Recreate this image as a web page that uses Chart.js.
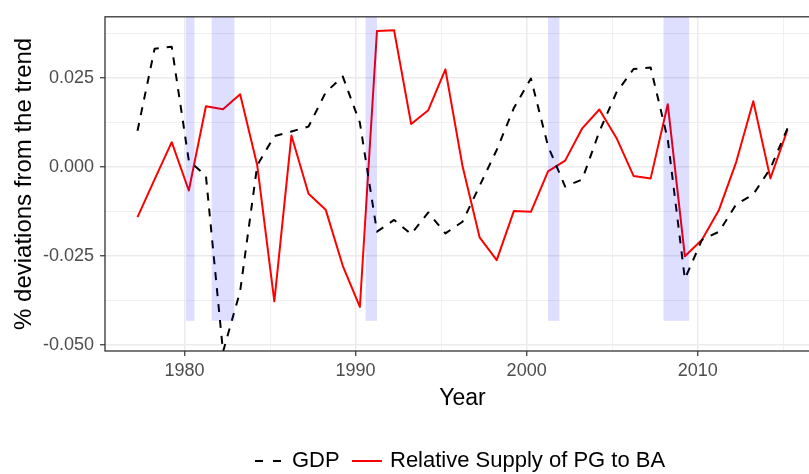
<!DOCTYPE html>
<html>
<head>
<meta charset="utf-8">
<script src="https://cdn.jsdelivr.net/npm/chart.js@4.4.1/dist/chart.umd.min.js"></script>
<style>
  html, body { margin: 0; padding: 0; background: #fff; overflow: hidden; }
  #wrap { width: 830px; height: 474px; }
</style>
</head>
<body>
<div id="wrap"><canvas id="chart"></canvas></div>
<script>
// observation years; each point is plotted at year + 0.25
const years = [1977, 1978, 1979, 1980, 1981, 1982, 1983, 1984, 1985, 1986,
               1987, 1988, 1989, 1990, 1991, 1992, 1993, 1994, 1995, 1996,
               1997, 1998, 1999, 2000, 2001, 2002, 2003, 2004, 2005, 2006,
               2007, 2008, 2009, 2010, 2011, 2012, 2013, 2014, 2015];

const gdp = [0.0102, 0.0333, 0.0339, 0.0018, -0.0025, -0.0520, -0.0350, 0.0005, 0.0087, 0.0100,
             0.0114, 0.0210, 0.0255, 0.0125, -0.0182, -0.0149, -0.0189, -0.0128, -0.0187, -0.0154,
             -0.0053, 0.0048, 0.0166, 0.0249, 0.0059, -0.0055, -0.0035, 0.0100, 0.0210, 0.0276,
             0.0280, 0.0078, -0.0315, -0.0205, -0.0182, -0.0105, -0.0077, -0.0004, 0.0109];

const relSupply = [-0.0141, -0.0035, 0.0070, -0.0066, 0.0171, 0.0163, 0.0205, 0.0005, -0.0378, 0.0089,
                   -0.0075, -0.0120, -0.0278, -0.0394, 0.0383, 0.0385, 0.0121, 0.0160, 0.0275, 0.0003,
                   -0.0198, -0.0262, -0.0124, -0.0126, -0.0012, 0.0018, 0.0109, 0.0162, 0.0082, -0.0025,
                   -0.0032, 0.0177, -0.0251, -0.0205, -0.0120, 0.0014, 0.0185, -0.0032, 0.0105];

const seriesNames = ['GDP', 'Relative Supply of PG to BA'];

// NBER recessions in decimal years
const recessionStart = [1980.083, 1981.583, 1990.583, 2001.25, 2008.0];
const recessionEnd = [1980.583, 1982.917, 1991.25, 2001.917, 2009.5];
const recessionFloor = -0.0433;

const xMajor = [1980, 1990, 2000, 2010];
const xMinor = [1985, 1995, 2005, 2015];
const yMajor = [-0.05, -0.025, 0, 0.025];
const yMinor = [-0.0375, -0.0125, 0.0125, 0.0375];

const near = (a, list) => list.some(v => Math.abs(v - a) < 1e-9);

Chart.defaults.font.family = '"Liberation Sans", Arial, Helvetica, sans-serif';

const points = vals => vals.map((v, i) => ({ x: years[i] + 0.25, y: v }));

const gridOpts = major => ({
    color: '#EBEBEB',
    lineWidth: c => near(c.tick.value, major) ? 1.5 : 0.75,
    tickColor: c => near(c.tick.value, major) ? '#333333' : 'rgba(0,0,0,0)',
    tickWidth: 1.2,
    tickLength: 5
});

const recessionShade = {
    id: 'recessionShade',
    afterDatasetsDraw(chart) {
        const { ctx, chartArea: a, scales: { x, y } } = chart;
        ctx.save();
        ctx.beginPath();
        ctx.rect(a.left, a.top, a.width, a.height);
        ctx.clip();
        ctx.fillStyle = 'rgba(0, 0, 255, 0.13)';
        const yb = y.getPixelForValue(recessionFloor);
        recessionStart.forEach((s, i) => {
            const x0 = x.getPixelForValue(s);
            const x1 = x.getPixelForValue(recessionEnd[i]);
            ctx.fillRect(x0, a.top, x1 - x0, yb - a.top);
        });
        ctx.restore();
    }
};

const panelAndLegend = {
    id: 'panelAndLegend',
    afterDraw(chart) {
        const { ctx, chartArea: a } = chart;
        ctx.save();
        ctx.strokeStyle = '#333333';
        ctx.lineWidth = 1.3;
        ctx.strokeRect(a.left, a.top, a.right - a.left, a.bottom - a.top);

        // legend along the bottom
        const ly = 461;
        const ds = chart.data.datasets;
        ctx.lineWidth = 2;
        ctx.strokeStyle = ds[0].borderColor;
        ctx.setLineDash([8, 10]);
        ctx.beginPath(); ctx.moveTo(255, ly); ctx.lineTo(282, ly); ctx.stroke();
        ctx.setLineDash([]);
        ctx.strokeStyle = ds[1].borderColor;
        ctx.beginPath(); ctx.moveTo(352, ly); ctx.lineTo(382, ly); ctx.stroke();
        ctx.fillStyle = '#000';
        ctx.font = '22px "Liberation Sans", Arial, sans-serif';
        ctx.textBaseline = 'middle';
        ctx.fillText(ds[0].label, 292, ly);
        ctx.fillText(ds[1].label, 390, ly);
        ctx.restore();
    }
};

new Chart(document.getElementById('chart'), {
    type: 'line',
    data: {
        datasets: [{
            label: seriesNames[0],
            data: points(gdp),
            borderColor: '#000000',
            borderWidth: 2,
            borderDash: [8, 8],
            borderJoinStyle: 'round',
            pointRadius: 0,
            tension: 0
        }, {
            label: seriesNames[1],
            data: points(relSupply),
            borderColor: '#FF0000',
            borderWidth: 2,
            borderJoinStyle: 'round',
            pointRadius: 0,
            tension: 0
        }]
    },
    options: {
        responsive: true,
        maintainAspectRatio: false,
        animation: false,
        events: [],
        layout: { padding: { top: 7, right: 10, bottom: 60, left: 0 } },
        scales: {
            x: {
                type: 'linear',
                min: 1975.35,
                max: 2017.15,
                afterBuildTicks: s => { s.ticks = [...xMajor, ...xMinor].sort((a, b) => a - b).map(v => ({ value: v })); },
                afterFit: s => { s.height = 63; },
                ticks: {
                    autoSkip: false,
                    maxRotation: 0,
                    padding: 4,
                    color: '#4D4D4D',
                    font: { size: 18 },
                    callback: v => near(v, xMajor) ? String(v) : ''
                },
                grid: gridOpts(xMajor),
                border: { display: false },
                title: {
                    display: true,
                    text: 'Year',
                    color: '#000',
                    font: { size: 23 },
                    padding: { top: 0, bottom: 2 }
                }
            },
            y: {
                min: -0.0518,
                max: 0.0423,
                afterBuildTicks: s => { s.ticks = [...yMajor, ...yMinor].sort((a, b) => a - b).map(v => ({ value: v })); },
                afterFit: s => { s.width = 105; },
                ticks: {
                    autoSkip: false,
                    padding: 6,
                    color: '#4D4D4D',
                    font: { size: 18 },
                    callback: v => near(v, yMajor) ? v.toFixed(3) : ''
                },
                grid: gridOpts(yMajor),
                border: { display: false },
                title: {
                    display: true,
                    text: '% deviations from the trend',
                    color: '#000',
                    font: { size: 24 },
                    padding: { top: 10, bottom: 0 }
                }
            }
        },
        plugins: {
            legend: { display: false },
            tooltip: { enabled: false }
        }
    },
    plugins: [recessionShade, panelAndLegend]
});
</script>
</body>
</html>
